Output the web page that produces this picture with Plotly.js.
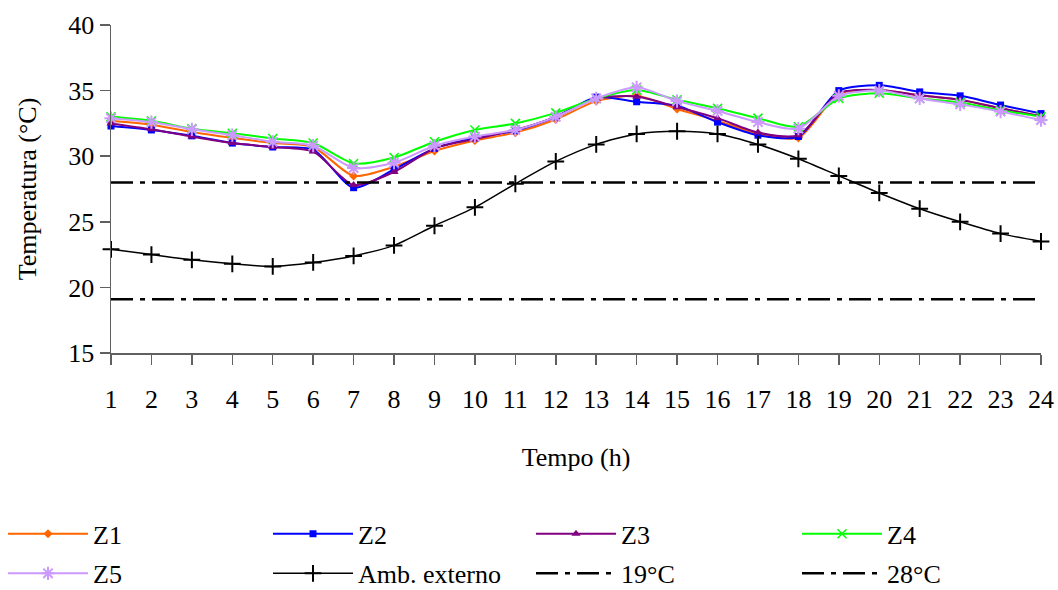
<!DOCTYPE html>
<html>
<head>
<meta charset="utf-8">
<script src="https://cdn.plot.ly/plotly-3.0.1.min.js"></script>
<style>
html,body{margin:0;padding:0;background:#fff;}
#chart{width:1058px;height:590px;}
</style>
</head>
<body>
<div id="chart"></div>
<script>
const hours = [1,2,3,4,5,6,7,8,9,10,11,12,13,14,15,16,17,18,19,20,21,22,23,24];
const z1 = [32.7,32.4,31.85,31.4,31.0,30.7,28.5,29.2,30.4,31.2,31.8,32.8,34.2,34.6,33.6,32.7,31.7,31.4,34.75,35.05,34.65,34.3,33.65,33.05];
const z2 = [32.3,32.0,31.55,31.0,30.7,30.5,27.6,29.0,30.6,31.4,31.95,33.0,34.5,34.15,33.85,32.6,31.6,31.5,35.0,35.4,34.9,34.6,33.9,33.25];
const z3 = [32.5,32.05,31.5,31.0,30.7,30.35,27.8,28.8,30.6,31.3,32.0,33.0,34.4,34.55,33.75,32.9,31.8,31.6,34.8,35.05,34.65,34.3,33.65,33.05];
const z4 = [33.0,32.7,32.1,31.75,31.35,31.0,29.45,29.9,31.1,32.0,32.5,33.3,34.4,35.05,34.3,33.65,32.9,32.25,34.4,34.8,34.4,34.1,33.5,33.0];
const z5 = [32.9,32.6,32.05,31.6,31.1,30.8,29.1,29.5,30.8,31.5,32.0,33.0,34.4,35.25,34.2,33.45,32.6,32.1,34.6,35.0,34.4,33.95,33.4,32.75];
const ambExterno = [22.9,22.5,22.1,21.8,21.6,21.9,22.4,23.2,24.7,26.1,27.9,29.6,30.9,31.7,31.9,31.7,30.9,29.8,28.5,27.2,26.0,25.0,24.1,23.5];
const limX = [1,24];
const lim19 = [19.1,19.1];
const lim28 = [28,28];
const seriesNames = ['Z1','Z2','Z3','Z4','Z5','Amb. externo','19°C','28°C'];

const FONT = 'Liberation Serif, Times New Roman, serif';

function zone(y, name, color, symbol, msize, mline, leg){
  return {
    x: hours, y: y, name: name, type: 'scatter', mode: 'lines+markers', legend: leg,
    line: {color: color, width: 2, shape: 'spline', smoothing: 0.7},
    marker: {symbol: symbol, size: msize, color: color, line: {color: color, width: mline}},
    cliponaxis: false
  };
}

const traces = [
  zone(z1, seriesNames[0], '#FF6600', 'diamond', 7, 0, 'legend'),
  zone(z2, seriesNames[1], '#0000FF', 'square', 7, 0, 'legend2'),
  zone(z3, seriesNames[2], '#800080', 'triangle-up', 8, 0, 'legend3'),
  zone(z4, seriesNames[3], '#00FF00', 'x-thin-open', 9, 1.5, 'legend4'),
  zone(z5, seriesNames[4], '#CC99FF', 'asterisk-open', 11, 2, 'legend5'),
  {
    x: hours, y: ambExterno, name: seriesNames[5], type: 'scatter', mode: 'lines+markers', legend: 'legend6',
    line: {color: '#000000', width: 1.5, shape: 'spline', smoothing: 0.7},
    marker: {symbol: 'cross-thin-open', size: 12, color: '#000', line: {color: '#000', width: 2}},
    cliponaxis: false
  },
  {
    x: limX, y: lim19, name: seriesNames[6], type: 'scatter', mode: 'lines', legend: 'legend7',
    line: {color: '#000', width: 2.5, dash: '22px,7px,5px,7px'}
  },
  {
    x: limX, y: lim28, name: seriesNames[7], type: 'scatter', mode: 'lines', legend: 'legend8',
    line: {color: '#000', width: 2.5, dash: '22px,7px,5px,7px'}
  }
];

function leg(colPx, rowY){
  return {
    orientation: 'h', xref: 'container', yref: 'container',
    x: (colPx - 5) / 1058, y: rowY, xanchor: 'left', yanchor: 'top',
    itemwidth: 80,
    font: {family: FONT, size: 26, color: '#000'},
    bgcolor: 'rgba(0,0,0,0)'
  };
}
const cols = [8, 273, 536, 802];
const row1 = 0.135, row2 = 0.068;

const layout = {
  width: 1058, height: 590,
  margin: {l: 111, r: 17, t: 25, b: 237},
  paper_bgcolor: '#fff', plot_bgcolor: '#fff',
  font: {family: FONT, size: 26, color: '#000'},
  showlegend: true,
  xaxis: {
    range: [1, 24], tickmode: 'linear', tick0: 1, dtick: 1,
    showgrid: false, zeroline: false,
    showline: true, linecolor: '#606060', linewidth: 1.5,
    ticks: 'outside', ticklen: 10, tickcolor: '#606060', tickwidth: 1.5,
    tickfont: {family: FONT, size: 26, color: '#000'},
    ticklabelstandoff: 12,
    title: {text: 'Tempo (h)', font: {family: FONT, size: 26, color: '#000'}, standoff: 35}
  },
  yaxis: {
    range: [15, 40], tickmode: 'linear', tick0: 15, dtick: 5,
    showgrid: false, zeroline: false,
    showline: true, linecolor: '#606060', linewidth: 1.5,
    ticks: 'outside', ticklen: 10, tickcolor: '#606060', tickwidth: 1.5,
    tickfont: {family: FONT, size: 26, color: '#000'},
    title: {text: 'Temperatura (°C)', font: {family: FONT, size: 26, color: '#000'}, standoff: 24}
  },
  legend: leg(cols[0], row1),
  legend2: leg(cols[1], row1),
  legend3: leg(cols[2], row1),
  legend4: leg(cols[3], row1),
  legend5: leg(cols[0], row2),
  legend6: leg(cols[1], row2),
  legend7: leg(cols[2], row2),
  legend8: leg(cols[3], row2)
};

Plotly.newPlot('chart', traces, layout, {displayModeBar: false, staticPlot: true});
</script>
</body>
</html>
